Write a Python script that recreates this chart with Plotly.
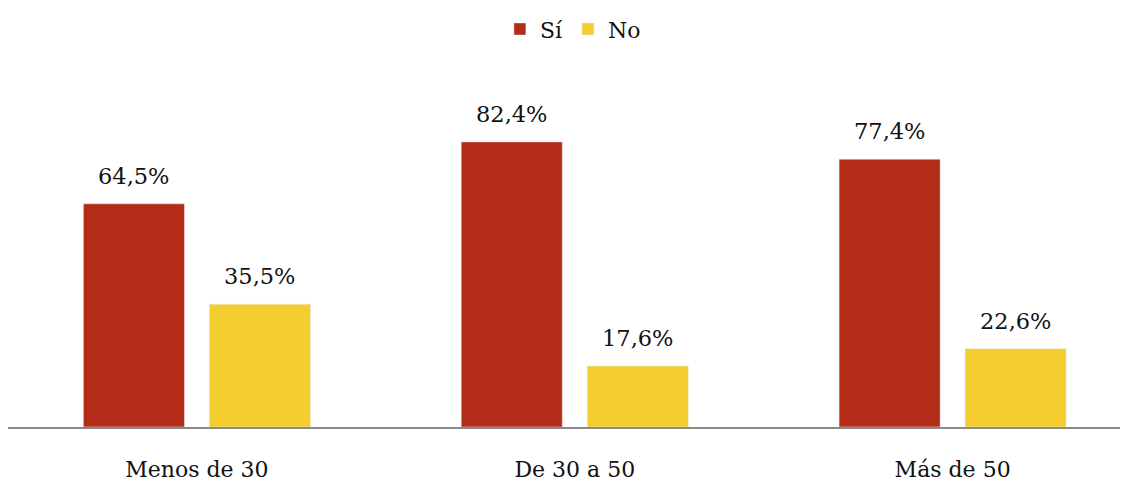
import plotly.graph_objects as go

categories = ["Menos de 30", "De 30 a 50", "Más de 50"]
si_values = [64.5, 82.4, 77.4]
no_values = [35.5, 17.6, 22.6]
series_names = ["Sí", "No"]

FONT = "DejaVu Serif"
RED = "#B22C17"
YELLOW = "#F4CD2E"

def fmt(v):
    return f"{v:.1f}".replace(".", ",") + "%"

fig = go.Figure()
fig.add_bar(x=categories, y=si_values, name=series_names[0], marker_color=RED)
fig.add_bar(x=categories, y=no_values, name=series_names[1], marker_color=YELLOW)

for vals, shift in ((si_values, -63), (no_values, 63)):
    for c, v in zip(categories, vals):
        fig.add_annotation(x=c, y=v, text=fmt(v), showarrow=False, xshift=shift,
                           yshift=28, font=dict(family=FONT, size=22.5, color="#111"))

fig.update_layout(
    width=1126, height=481,
    margin=dict(l=8, r=6, t=81, b=54, autoexpand=False),
    plot_bgcolor="white", paper_bgcolor="white",
    barmode="group", bargap=0.333, bargroupgap=0.198,
    font=dict(family=FONT, size=22, color="#111"),
    legend=dict(orientation="h", x=0.508, xanchor="center", y=0.983, yanchor="top",
                yref="container", font=dict(family=FONT, size=22), itemwidth=30,
                tracegroupgap=0),
    showlegend=True,
)
fig.update_xaxes(range=[-0.5, 2.443], showline=True, linecolor="#8a8a8a", linewidth=2,
                 ticks="", automargin=False, ticklabelstandoff=22,
                 tickfont=dict(family=FONT, size=22))
fig.update_yaxes(range=[0, 100], visible=False, showgrid=False, zeroline=False,
                 automargin=False)

fig.write_html("out.html", config={"displayModeBar": False},
               post_script="document.body.style.margin='0';document.body.style.overflow='hidden';")
